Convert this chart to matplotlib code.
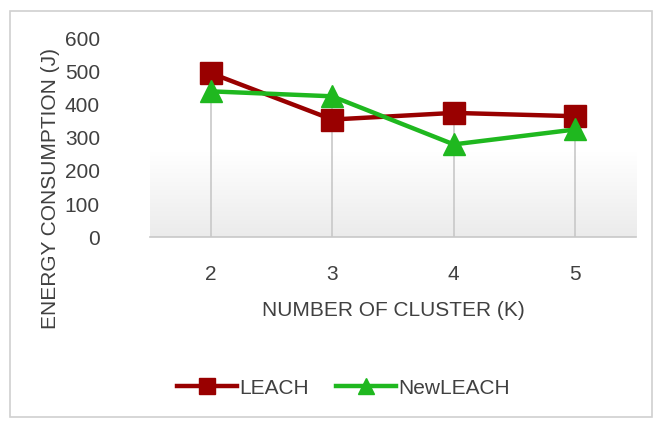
import numpy as np
import matplotlib
matplotlib.use('Agg')
import matplotlib.pyplot as plt
from matplotlib.patches import Rectangle
from matplotlib.colors import LinearSegmentedColormap

# =========================
# data
# =========================

clusters = [2, 3, 4, 5]
leach = [495, 355, 375, 365]
new_leach = [440, 425, 280, 325]
y_ticks = [0, 100, 200, 300, 400, 500, 600]

TXT = '#404040'
RED = '#990000'
GREEN = '#1fb81f'

plt.rcParams['font.family'] = ['Liberation Sans', 'DejaVu Sans']

fig = plt.figure(figsize=(6.59, 4.28), dpi=100)
ax = fig.add_axes([0.2276, 0.4456, 0.7375, 0.465])

# outer frame
fig.patches.append(Rectangle((0.015, 0.025), 0.975, 0.95, transform=fig.transFigure,
                             fill=False, edgecolor='#d0d0d0', linewidth=1.2))

# soft gradient in lower part of plot area
grad = np.linspace(0, 1, 256).reshape(-1, 1)
cmap = LinearSegmentedColormap.from_list('g', ['#ebebeb', '#ffffff'])
ax.imshow(grad, extent=[1.5, 5.5, 0, 255], origin='lower', aspect='auto',
          cmap=cmap, zorder=0)

# drop lines
tops = [max(a, b) for a, b in zip(leach, new_leach)]
ax.vlines(clusters, 0, tops, colors='#c8c8c8', linewidth=1.2, zorder=1)

ax.plot(clusters, leach, color=RED, linewidth=3.2, marker='s', markersize=16,
        label='LEACH', zorder=3)
ax.plot(clusters, new_leach, color=GREEN, linewidth=3.2, marker='^', markersize=16,
        label='NewLEACH', zorder=4)

ax.set_xlim(1.5, 5.5)
ax.set_ylim(0, 600)
ax.set_xticks(clusters)
ax.set_yticks(y_ticks)
ax.tick_params(length=0, labelsize=15, colors=TXT)
ax.tick_params(axis='y', pad=36)
ax.tick_params(axis='x', pad=20)
for s in ['top', 'right', 'left']:
    ax.spines[s].set_visible(False)
ax.spines['bottom'].set_color('#c8c8c8')
ax.spines['bottom'].set_linewidth(1.2)

ax.set_xlabel('NUMBER OF CLUSTER (K)', fontsize=15, color=TXT, labelpad=12)
fig.text(0.076, 0.56, 'ENERGY CONSUMPTION (J)', rotation=90, fontsize=15,
         color=TXT, ha='center', va='center')

fig.legend(loc='center', bbox_to_anchor=(0.521, 0.093), ncol=2, frameon=False,
           fontsize=15, handlelength=2.9, handletextpad=0.1, columnspacing=1.3,
           markerscale=0.7, labelcolor=TXT)

plt.savefig('out.png', dpi=100)
plt.close('all')
